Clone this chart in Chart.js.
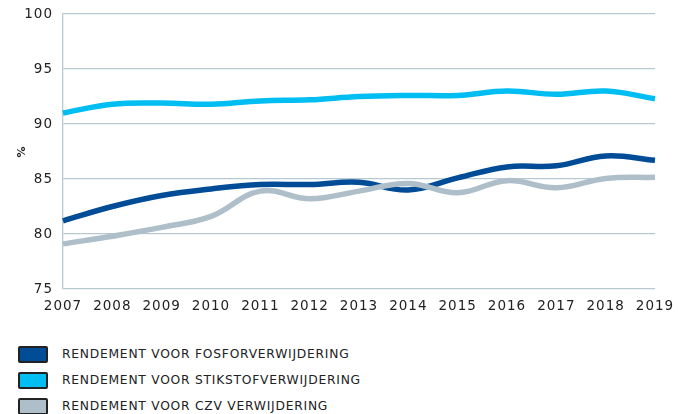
<!DOCTYPE html>
<html><head><meta charset="utf-8">
<script src="https://cdn.jsdelivr.net/npm/chart.js@4/dist/chart.umd.min.js"></script>
<style>
html,body{margin:0;padding:0;background:#fff;width:678px;height:414px;overflow:hidden;}
#wrap{position:relative;width:678px;height:320px;}
.legend{position:absolute;left:18px;top:341px;font-family:"DejaVu Sans",sans-serif;font-size:12.3px;color:#222;letter-spacing:0.75px;}
.item{display:flex;align-items:center;height:26px;}
.box{width:26px;height:13px;border:2px solid #222;border-radius:2px;margin-right:14px;}
</style></head>
<body>
<div id="wrap"><canvas id="c" width="678" height="320"></canvas></div>
<div class="legend" id="legend"></div>
<script>
const years = ["2007","2008","2009","2010","2011","2012","2013","2014","2015","2016","2017","2018","2019"];
const fosfor = [81.2,82.5,83.5,84.1,84.5,84.5,84.7,84.0,85.1,86.1,86.2,87.1,86.7];
const stikstof = [91.0,91.8,91.9,91.8,92.1,92.2,92.5,92.6,92.6,93.0,92.7,93.0,92.3];
const czv = [79.1,79.8,80.6,81.6,83.9,83.2,83.9,84.6,83.75,84.85,84.2,85.05,85.15];
const seriesNames = ["RENDEMENT VOOR FOSFORVERWIJDERING","RENDEMENT VOOR STIKSTOFVERWIJDERING","RENDEMENT VOOR CZV VERWIJDERING"];
const colors = ["#004c97","#00bdf2","#aebfca"];
const yTicks = [75,80,85,90,95,100];

const mk = (label, data, color) => ({label, data, borderColor: color, backgroundColor: color, borderWidth: 5.5, pointRadius: 0, tension: 0.4, fill: false, borderCapStyle:'butt'});

const font = {family: "'DejaVu Sans', sans-serif", size: 13.5};
const spacing = {id: 'spacing', beforeDraw(chart) { chart.ctx.letterSpacing = '1px'; }};
new Chart(document.getElementById('c'), {
  type: 'line',
  data: {labels: years, datasets: [mk(seriesNames[2], czv, colors[2]), mk(seriesNames[0], fosfor, colors[0]), mk(seriesNames[1], stikstof, colors[1])]},
  plugins: [spacing],
  options: {
    responsive: false, animation: false,
    layout: {padding: {top: 14, right: 23, left: 0, bottom: 0}},
    plugins: {legend: {display: false}, tooltip: {enabled: false}},
    scales: {
      x: {
        grid: {display: false, drawTicks: false},
        border: {display: false},
        ticks: {color: '#222', font: font, padding: 9, maxRotation: 0, autoSkip: false},
        afterFit: s => { s.height = 31; s.paddingLeft = 0; s.paddingRight = 0; }
      },
      y: {
        min: 75, max: 100,
        afterBuildTicks: s => { s.ticks = yTicks.map(v => ({value: v})); },
        grid: {color: '#b9c9d3', lineWidth: 1.3, drawTicks: false},
        border: {display: true, color: '#b9c9d3', width: 1.3},
        ticks: {color: '#222', font: font, padding: 10},
        title: {display: true, text: '%', color: '#222', font: {family: "'DejaVu Sans', sans-serif", size: 11, weight: 'bold'}, padding: {top: 16, bottom: 0}},
        afterFit: s => { s.width = 63; s.paddingTop = 0; s.paddingBottom = 0; }
      }
    }
  }
});

const leg = document.getElementById('legend');
seriesNames.forEach((n, i) => {
  const d = document.createElement('div'); d.className = 'item';
  d.innerHTML = '<span class="box" style="background:' + colors[i] + '"></span><span>' + n + '</span>';
  leg.appendChild(d);
});
</script>
</body></html>
